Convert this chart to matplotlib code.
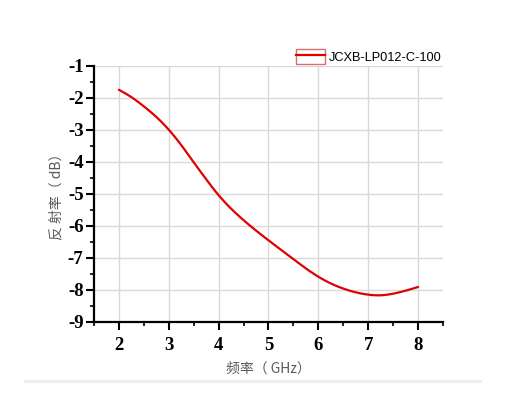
import matplotlib
matplotlib.use("Agg")
import matplotlib.pyplot as plt
from matplotlib.patches import Rectangle
from matplotlib.lines import Line2D
from matplotlib.legend_handler import HandlerTuple
import numpy as np

plt.rcParams["axes.unicode_minus"] = False

freq = [2.0, 2.25, 2.5, 2.75, 3.0, 3.25, 3.5, 3.75, 4.0, 4.25, 4.5, 5.0, 5.5, 6.0, 6.5, 7.0, 7.25, 7.5, 8.0]
refl = [-1.75, -1.98, -2.27, -2.6, -3.0, -3.48, -4.02, -4.55, -5.05, -5.47, -5.83, -6.46, -7.05, -7.6, -7.97, -8.16, -8.18, -8.13, -7.92]
series_name = "JCXB-LP012-C-100"
xticks = [2, 3, 4, 5, 6, 7, 8]
yticks = [-9, -8, -7, -6, -5, -4, -3, -2, -1]
xlabel = "频率（ GHz）"
ylabel = "反 射率（ dB）"

cjk = ["Noto Sans CJK SC", "DejaVu Sans"]

fig = plt.figure(figsize=(5.32, 3.93), dpi=100)
ax = fig.add_axes([94/532, 1-321.5/393, (443-94)/532, (321.5-65.8)/393])

def natural_spline(x, y, n=400):
    x = np.asarray(x, float); y = np.asarray(y, float)
    m = len(x); h = np.diff(x)
    A = np.zeros((m, m)); b = np.zeros(m)
    A[0, 0] = A[-1, -1] = 1
    for i in range(1, m-1):
        A[i, i-1] = h[i-1]; A[i, i] = 2*(h[i-1]+h[i]); A[i, i+1] = h[i]
        b[i] = 3*((y[i+1]-y[i])/h[i] - (y[i]-y[i-1])/h[i-1])
    c = np.linalg.solve(A, b)
    xx = np.linspace(x[0], x[-1], n)
    idx = np.clip(np.searchsorted(x, xx) - 1, 0, m-2)
    dx = xx - x[idx]
    hi = h[idx]
    bb = (y[idx+1]-y[idx])/hi - hi*(2*c[idx]+c[idx+1])/3
    dd = (c[idx+1]-c[idx])/(3*hi)
    return xx, y[idx] + bb*dx + c[idx]*dx**2 + dd*dx**3

cx, cy = natural_spline(freq, refl)
ax.plot(cx, cy, color="#e00000", lw=1.6, solid_capstyle="round", zorder=3)

ax.set_xlim(1.5, 8.5)
ax.set_ylim(-9, -1)
ax.set_xticks(xticks)
ax.set_yticks(yticks)
ax.set_xticks(np.arange(1.5, 8.51, 0.5), minor=True)
ax.set_yticks(np.arange(-9, -0.99, 0.5), minor=True)
ax.grid(True, which="major", color="#d9d9d9", lw=1.0, zorder=0)
ax.set_axisbelow(True)

for s in ("top", "right"):
    ax.spines[s].set_visible(False)
for s in ("left", "bottom"):
    ax.spines[s].set_linewidth(1.6)
    ax.spines[s].set_color("black")

ax.tick_params(which="major", direction="out", length=5.5, width=1.5, colors="black")
ax.tick_params(which="minor", direction="out", length=3, width=1.2, colors="black")
ax.tick_params(axis="x", pad=6)
ax.tick_params(axis="y", pad=2)
for lab in ax.get_xticklabels() + ax.get_yticklabels():
    lab.set_fontfamily("Liberation Serif")
    lab.set_fontweight("bold")
    lab.set_fontsize(13.5)

ax.set_xlabel(xlabel, family=cjk, fontsize=10, color="#5a5a5a", labelpad=5)
ax.set_ylabel(ylabel, family=cjk, fontsize=10, color="#5a5a5a", labelpad=3)

box = Rectangle((0, 0), 1, 1, facecolor="white", edgecolor="#d77070", lw=1.0)
ln = Line2D([0], [0], color="#e00000", lw=1.6)
fig.legend(handles=[(box, ln)], labels=[series_name],
           handler_map={tuple: HandlerTuple(ndivide=1)},
           loc="center left", bbox_to_anchor=(296/532, 1-56.5/393),
           frameon=False, handlelength=2.3, handleheight=1.4, handletextpad=0.3,
           borderaxespad=0, borderpad=0,
           prop={"family": "Liberation Sans", "size": 9.2})

fig.add_artist(Line2D([25/532, 480/532], [1-380.5/393, 1-380.5/393],
                      color="#eeeeee", lw=2.0, transform=fig.transFigure))

fig.savefig("out.png", dpi=100, facecolor="white")
